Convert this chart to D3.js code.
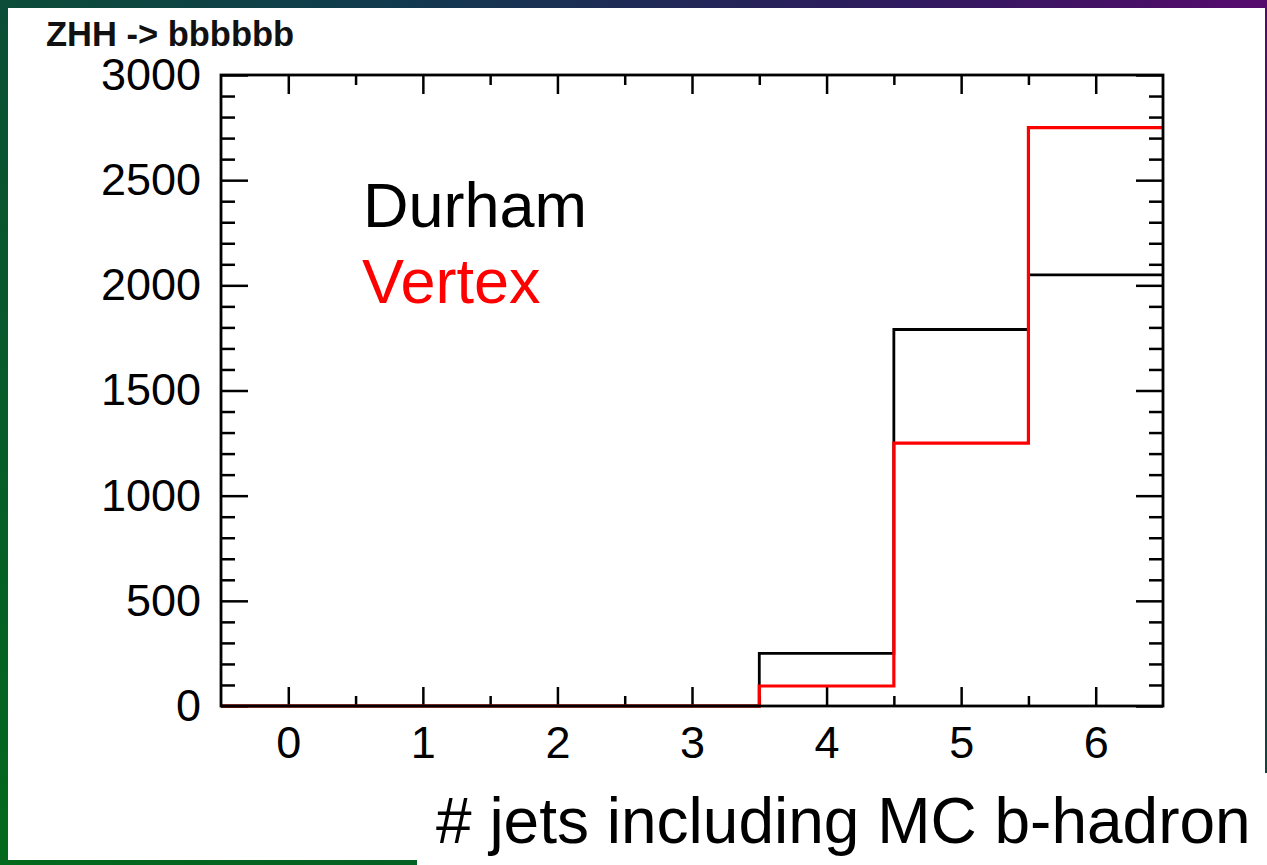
<!DOCTYPE html>
<html>
<head>
<meta charset="utf-8">
<script src="https://cdn.jsdelivr.net/npm/d3@7"></script>
<style>
  html, body { margin: 0; padding: 0; background: #fff; }
  svg { display: block; }
  text { font-family: "Liberation Sans", Arial, Helvetica, sans-serif; }
</style>
</head>
<body>
<svg id="chart" width="1267" height="865"></svg>
<script>
// Histogram bins: number of jets containing an MC b-hadron
const bins = [0, 1, 2, 3, 4, 5, 6];
const durham = [0, 0, 0, 0, 250, 1790, 2050];
const vertex = [0, 0, 0, 0, 95, 1250, 2750];
const yTicks = [0, 500, 1000, 1500, 2000, 2500, 3000];
const xTicks = [0, 1, 2, 3, 4, 5, 6];
const titleText = "ZHH -> bbbbbb";
const xTitle = "# jets including MC b-hadron";
const seriesNames = ["Durham", "Vertex"];

const svg = d3.select("#chart");

// slide backdrop gradient with the white content panels on top
const defs = svg.append("defs");
const grad = defs.append("linearGradient")
  .attr("id", "slideBg").attr("x1", "0%").attr("y1", "100%").attr("x2", "100%").attr("y2", "0%");
grad.append("stop").attr("offset", "0%").attr("stop-color", "#03691c");
grad.append("stop").attr("offset", "45%").attr("stop-color", "#0a5232");
grad.append("stop").attr("offset", "65%").attr("stop-color", "#113a4e");
grad.append("stop").attr("offset", "85%").attr("stop-color", "#2e1b5e");
grad.append("stop").attr("offset", "100%").attr("stop-color", "#560a6c");
svg.append("rect").attr("width", 1267).attr("height", 865).attr("fill", "url(#slideBg)");
svg.append("rect").attr("x", 8).attr("y", 8).attr("width", 1257).attr("height", 852).attr("fill", "#fff");
svg.append("rect").attr("x", 417).attr("y", 773).attr("width", 850).attr("height", 92).attr("fill", "#fff");

// plot frame
const frame = { left: 221, right: 1163, top: 75, bottom: 706 };
const x = d3.scaleLinear().domain([-0.5, 6.5]).range([frame.left, frame.right]);
const y = d3.scaleLinear().domain([0, 3000]).range([frame.bottom, frame.top]);

const minorY = d3.range(0, 3001, 100).filter(v => v % 500 !== 0);
const minorX = d3.range(0.5, 6.5, 1);

const majorYLen = 27, minorYLen = 14, majorXLen = 19, minorXLen = 10;

function styleAxis(g) {
  g.select(".domain").remove();
  g.selectAll("line").attr("stroke", "#000").attr("stroke-width", 2.5);
}

// left axis with labels
svg.append("g").attr("transform", `translate(${frame.left},0)`)
  .call(d3.axisLeft(y).tickValues(yTicks).tickSize(-majorYLen).tickPadding(20).tickFormat(d3.format("d")))
  .call(styleAxis)
  .call(g => g.selectAll("text").attr("font-size", 45).attr("fill", "#000")
    .attr("font-family", "Liberation Sans, Arial, sans-serif"));
svg.append("g").attr("transform", `translate(${frame.left},0)`)
  .call(d3.axisLeft(y).tickValues(minorY).tickSize(-minorYLen).tickFormat(""))
  .call(styleAxis);

// right axis ticks
svg.append("g").attr("transform", `translate(${frame.right},0)`)
  .call(d3.axisRight(y).tickValues(yTicks).tickSize(-majorYLen).tickFormat(""))
  .call(styleAxis);
svg.append("g").attr("transform", `translate(${frame.right},0)`)
  .call(d3.axisRight(y).tickValues(minorY).tickSize(-minorYLen).tickFormat(""))
  .call(styleAxis);

// bottom axis with labels
svg.append("g").attr("transform", `translate(0,${frame.bottom})`)
  .call(d3.axisBottom(x).tickValues(xTicks).tickSize(-majorXLen).tickPadding(20).tickFormat(d3.format("d")))
  .call(styleAxis)
  .call(g => g.selectAll("text").attr("font-size", 45).attr("fill", "#000")
    .attr("font-family", "Liberation Sans, Arial, sans-serif"));
svg.append("g").attr("transform", `translate(0,${frame.bottom})`)
  .call(d3.axisBottom(x).tickValues(minorX).tickSize(-minorXLen).tickFormat(""))
  .call(styleAxis);

// top axis ticks
svg.append("g").attr("transform", `translate(0,${frame.top})`)
  .call(d3.axisTop(x).tickValues(xTicks).tickSize(-majorXLen).tickFormat(""))
  .call(styleAxis);
svg.append("g").attr("transform", `translate(0,${frame.top})`)
  .call(d3.axisTop(x).tickValues(minorX).tickSize(-minorXLen).tickFormat(""))
  .call(styleAxis);

// step outline of a histogram
function stepPoints(values) {
  const pts = [];
  bins.forEach((b, i) => {
    pts.push([x(b - 0.5), y(values[i])]);
    pts.push([x(b + 0.5), y(values[i])]);
  });
  return pts;
}
const line = d3.line();

svg.append("path").attr("d", line(stepPoints(durham)))
  .attr("fill", "none").attr("stroke", "#000").attr("stroke-width", 2.8);
svg.append("path").attr("d", line(stepPoints(vertex)))
  .attr("fill", "none").attr("stroke", "#ff0000").attr("stroke-width", 3.2);

// frame box
svg.append("rect")
  .attr("x", frame.left).attr("y", frame.top)
  .attr("width", frame.right - frame.left).attr("height", frame.bottom - frame.top)
  .attr("fill", "none").attr("stroke", "#000").attr("stroke-width", 2.8);

// title
svg.append("text").attr("x", 46).attr("y", 46)
  .attr("font-size", 34.5).attr("font-weight", "bold").attr("fill", "#111")
  .text(titleText);

// legend text
svg.append("text").attr("x", 363).attr("y", 227).attr("font-size", 63).attr("fill", "#000")
  .text(seriesNames[0]);
svg.append("text").attr("x", 362).attr("y", 303).attr("font-size", 63).attr("fill", "#ff0000")
  .text(seriesNames[1]);

// x axis title
svg.append("text").attr("x", 436).attr("y", 843).attr("font-size", 64).attr("fill", "#000")
  .text(xTitle);
</script>
</body>
</html>
